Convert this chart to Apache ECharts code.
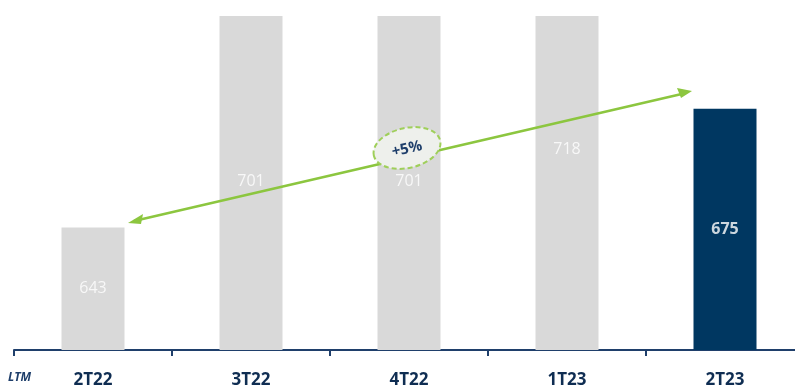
<!DOCTYPE html>
<html><head><meta charset="utf-8">
<script src="https://cdn.jsdelivr.net/npm/echarts@6/dist/echarts.min.js"></script>
<style>html,body{margin:0;padding:0;background:#fff}#c{width:795px;height:385px}</style>
</head><body><div id="c"></div>
<script>
const categories = ['2T22', '3T22', '4T22', '1T23', '2T23'];
const values = [643, 701, 701, 718, 675];
const highlightIndex = 4;
const growthLabel = '+5%';
const axisPrefix = 'LTM';

const yMin = 610, yMax = 700;
const gray = '#d9d9d9', navy = '#003761', green = '#8cc63f';

const chart = echarts.init(document.getElementById('c'));
chart.setOption({
  animation: false,
  grid: { left: 14, right: -9, top: 16, bottom: 35, outerBoundsMode: 'none', containLabel: false },
  xAxis: {
    type: 'category', data: categories,
    axisLine: { lineStyle: { color: '#1f3f6b', width: 2 } },
    axisTick: { show: true, length: 6, lineStyle: { color: '#1f3f6b', width: 2 } },
    axisLabel: { color: '#0f2d52', fontSize: 17, fontWeight: 'bold', fontFamily: 'Open Sans', margin: 22 }
  },
  yAxis: { type: 'value', min: yMin, max: yMax, show: false, splitLine: { show: false } },
  series: [
    {
      type: 'bar', barWidth: 63, clip: true,
      data: values.map((v, i) => ({ value: v, itemStyle: { color: i === highlightIndex ? navy : gray } }))
    },
    {
      type: 'scatter', symbolSize: 0, silent: true,
      data: values.map((v, i) => ({
        value: (yMin + v) / 2,
        label: { show: true, position: 'inside', formatter: String(v),
          color: '#ffffff',
          fontWeight: i === highlightIndex ? 'bold' : 500,
          fontSize: 16, fontFamily: 'Open Sans' }
      }))
    }
  ],
  graphic: [
    { type: 'text', left: 8, top: 372, style: { text: axisPrefix, fill: '#1f3f6b', font: 'italic bold 12px "Open Sans"' } },
    { type: 'line', shape: { x1: 134, y1: 221, x2: 686, y2: 93 }, style: { stroke: green, lineWidth: 2.5 }, z: 10 },
    { type: 'polygon', shape: { points: [[128, 223], [143, 214], [141, 224]] }, style: { fill: green }, z: 10 },
    { type: 'polygon', shape: { points: [[692, 91], [677, 88], [681, 98]] }, style: { fill: green }, z: 10 },
    { type: 'ellipse', x: 407, y: 148, rotation: 0.22, shape: { cx: 0, cy: 0, rx: 34, ry: 20 },
      style: { fill: '#eef0ec', stroke: '#9fcf5a', lineWidth: 2, lineDash: [5, 3] }, z: 11 },
    { type: 'text', x: 407, y: 149, rotation: 0.22, z: 12,
      style: { text: growthLabel, fill: '#1f3f6b', font: 'bold 15px "Open Sans"', align: 'center', verticalAlign: 'middle' } }
  ]
});
</script></body></html>
